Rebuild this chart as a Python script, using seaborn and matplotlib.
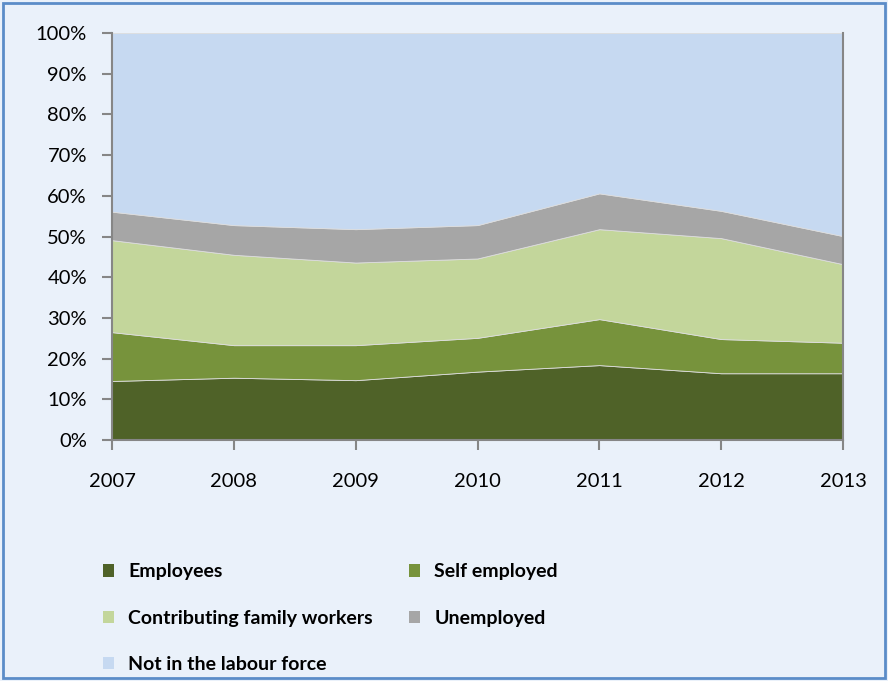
import matplotlib
matplotlib.use("Agg")
import matplotlib.pyplot as plt
import seaborn as sns
import numpy as np
from matplotlib.patches import Rectangle, Patch
from matplotlib.ticker import PercentFormatter

years = [2007, 2008, 2009, 2010, 2011, 2012, 2013]
employees = [14.5, 15.3, 14.7, 16.8, 18.4, 16.4, 16.4]
self_employed = [12.0, 8.0, 8.6, 8.3, 11.3, 8.4, 7.5]
family_workers = [22.6, 22.2, 20.3, 19.5, 22.1, 24.8, 19.3]
unemployed = [7.0, 7.3, 8.2, 8.2, 8.8, 6.7, 6.9]
not_in_lf = [100 - a - b - c - d for a, b, c, d in zip(employees, self_employed, family_workers, unemployed)]
series_labels = ["Employees", "Self employed", "Contributing family workers",
                 "Unemployed", "Not in the labour force"]
colors = ["#4F6228", "#77933C", "#C3D69B", "#A6A6A6", "#C6D9F1"]

sns.set_theme(style="white")
plt.rcParams['font.family'] = ['Lato', 'DejaVu Sans']
plt.rcParams['text.color'] = 'black'

bg = "#EAF1FA"
fig = plt.figure(figsize=(8.88, 6.81), dpi=100, facecolor=bg)
ax = fig.add_axes([112/888, 1-440/681, (843-112)/888, (440-33)/681])
ax.set_facecolor(bg)

ax.stackplot(years, employees, self_employed, family_workers, unemployed, not_in_lf,
             colors=colors, labels=series_labels, linewidth=0.6,
             edgecolor="#dddddd")

ax.set_xlim(2007, 2013)
ax.set_ylim(0, 100)
ax.set_xticks(years)
ax.set_yticks(np.arange(0, 101, 10))
ax.yaxis.set_major_formatter(PercentFormatter(decimals=0))
ax.tick_params(axis="both", which="both", direction="out", length=7, width=1.5,
               color="#868686", labelsize=14.5, labelcolor="black",
               left=True, bottom=True)
ax.tick_params(axis="y", pad=11)
ax.tick_params(axis="x", pad=17)
for side in ["left", "bottom", "right"]:
    ax.spines[side].set_visible(True)
    ax.spines[side].set_color("#868686")
    ax.spines[side].set_linewidth(1.5)
ax.spines["top"].set_visible(False)
ax.grid(False)

handles = [Patch(facecolor=c, edgecolor="none") for c in colors]
order = [0, 2, 4, 1, 3]
leg = fig.legend([handles[i] for i in order], [series_labels[i] for i in order],
                 ncol=2, loc="upper left", bbox_to_anchor=(85/888, 1-546/681),
                 frameon=False, prop={"weight": "bold", "size": 14},
                 handlelength=0.6, handleheight=0.6, handletextpad=0.72,
                 columnspacing=1.85, labelspacing=1.5)
for t in leg.get_texts():
    t.set_color("black")

fig.patches.append(Rectangle((0.003, 0.004), 0.994, 0.992, transform=fig.transFigure,
                             fill=False, edgecolor="#5B8CC8", linewidth=2))

fig.savefig("out.png", dpi=100, facecolor=bg)
